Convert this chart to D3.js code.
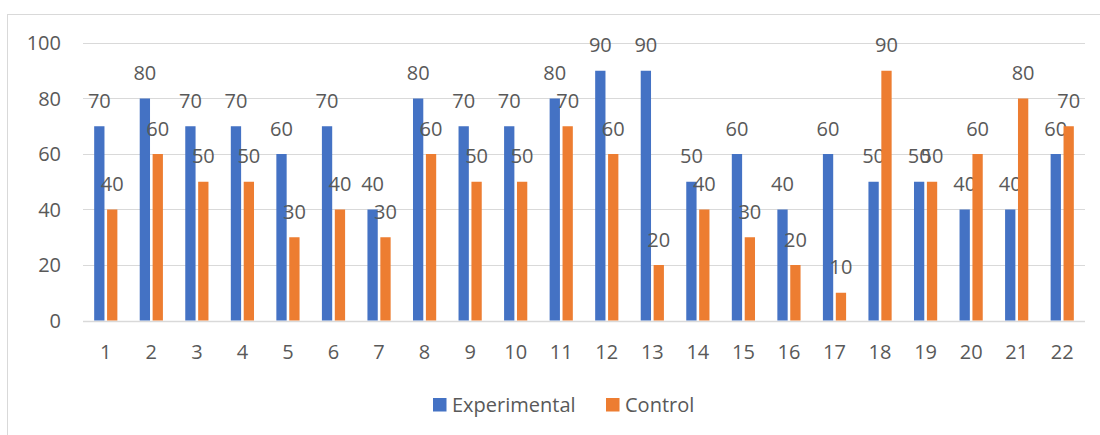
<!DOCTYPE html>
<html>
<head>
<meta charset="utf-8">
<script src="https://cdn.jsdelivr.net/npm/d3@7"></script>
<style>
  html, body { margin: 0; padding: 0; background: #fff; }
  svg { display: block; }
  text { font-family: "Open Sans", "Liberation Sans", sans-serif; fill: #595959; }
</style>
</head>
<body>
<svg id="chart" width="1100" height="435"></svg>
<script>
// Scores per participant pair
const categories = ["1","2","3","4","5","6","7","8","9","10","11","12","13","14","15","16","17","18","19","20","21","22"];
const experimental = [70,80,70,70,60,70,40,80,70,70,80,90,90,50,60,40,60,50,50,40,40,60];
const control      = [40,60,50,50,30,40,30,60,50,50,70,60,20,40,30,20,10,90,50,60,80,70];
const yTicks = [0,20,40,60,80,100];
const seriesNames = ["Experimental","Control"];
const seriesColors = ["#4472C4","#ED7D31"];

const svg = d3.select("#chart");
const W = 1100, H = 435;
const FS = 20;

// outer frame
svg.append("rect")
  .attr("x", 7.5).attr("y", 14.5)
  .attr("width", W).attr("height", H)
  .attr("fill", "#fff").attr("stroke", "#D9D9D9").attr("stroke-width", 1);

const plot = { left: 83, right: 1085, top: 43, bottom: 320.5 };

const x = d3.scaleBand().domain(categories).range([plot.left, plot.right]).padding(0);
const y = d3.scaleLinear().domain([0, 100]).range([plot.bottom, plot.top]);

// gridlines
svg.append("g").selectAll("line").data(yTicks).join("line")
  .attr("x1", plot.left).attr("x2", plot.right)
  .attr("y1", d => Math.round(y(d)) + 0.5).attr("y2", d => Math.round(y(d)) + 0.5)
  .attr("stroke", "#D9D9D9").attr("stroke-width", d => d === 0 ? 1.5 : 1);

// y axis labels
const yAxis = d3.axisLeft(y).tickValues(yTicks).tickSize(0).tickPadding(0);
const gy = svg.append("g").attr("transform", `translate(${plot.left - 22},0.5)`).call(yAxis);
gy.select(".domain").remove();
gy.selectAll("text").attr("font-size", FS).attr("fill", "#595959")
  .style("font-family", "\"Open Sans\", sans-serif");

// x axis labels
const xAxis = d3.axisBottom(x).tickSize(0).tickPadding(0);
const gx = svg.append("g").attr("transform", `translate(0,${plot.bottom + 24.5})`).call(xAxis);
gx.select(".domain").remove();
gx.selectAll("text").attr("font-size", FS).attr("fill", "#595959")
  .style("font-family", "\"Open Sans\", sans-serif");

// bars
const barW = 10.3, gap = 2.6;
const offsets = [-gap / 2 - barW, gap / 2];
const series = [experimental, control];

series.forEach((vals, si) => {
  const g = svg.append("g");
  const data = categories.map((c, i) => ({ c, v: vals[i] }));
  g.selectAll("rect").data(data).join("rect")
    .attr("x", d => x(d.c) + x.bandwidth() / 2 + offsets[si])
    .attr("y", d => y(d.v))
    .attr("width", barW)
    .attr("height", d => y(0) - y(d.v))
    .attr("fill", seriesColors[si]);
  g.selectAll("text").data(data).join("text")
    .attr("x", d => x(d.c) + x.bandwidth() / 2 + offsets[si] + barW / 2)
    .attr("y", d => y(d.v) - 18.5)
    .attr("text-anchor", "middle")
    .attr("font-size", FS)
    .text(d => d.v);
});

// legend
const legend = svg.append("g");
const legendItems = [
  { name: seriesNames[0], color: seriesColors[0], x: 433 },
  { name: seriesNames[1], color: seriesColors[1], x: 606 }
];
legendItems.forEach(it => {
  legend.append("rect").attr("x", it.x).attr("y", 398).attr("width", 13.5).attr("height", 13.5).attr("fill", it.color);
  legend.append("text").attr("x", it.x + 19).attr("y", 412).attr("font-size", FS).text(it.name);
});
</script>
</body>
</html>
